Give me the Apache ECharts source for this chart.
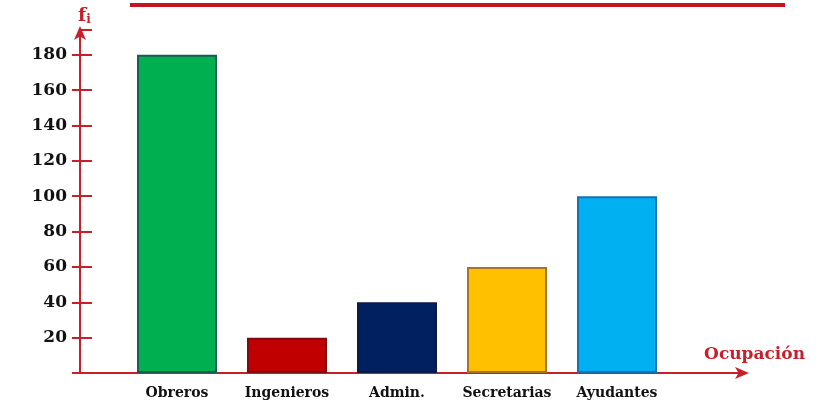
<!DOCTYPE html>
<html><head><meta charset="utf-8">
<script src="https://cdn.jsdelivr.net/npm/echarts@6/dist/echarts.min.js"></script>
<style>html,body{margin:0;padding:0;background:#fff}#c{width:818px;height:401px}</style>
</head><body><div id="c"></div>
<script>
const categories = ['Obreros', 'Ingenieros', 'Admin.', 'Secretarias', 'Ayudantes'];
const frequencies = [180, 20, 40, 60, 100];
const barColors = ['#00b050', '#c00000', '#002060', '#ffc000', '#00b0f0'];
const barBorders = ['#1d5a55', '#7a0d10', '#0c1a45', '#a8722a', '#1a6fb0'];
const yMax = 194;
const yInterval = 20;

const red = '#c8202a';
const labelFont = 'DejaVu Serif';
const chart = echarts.init(document.getElementById('c'));
chart.setOption({
  backgroundColor: '#fff',
  animation: false,
  graphic: [{ type: 'rect', shape: { x: 130, y: 3, width: 655, height: 4 }, style: { fill: '#c4141e' } }],
  grid: [
    { left: 80, right: 73, top: 30, bottom: 28 },
    { left: 122, right: 146, top: 30, bottom: 28 }
  ],
  xAxis: [
    { gridIndex: 0, type: 'value', min: 0, max: 1,
      axisLine: { show: true, lineStyle: { color: red, width: 2 }, symbol: ['none', 'arrow'], symbolSize: [9, 14], symbolOffset: [0, 4] },
      axisTick: { show: false }, axisLabel: { show: false }, splitLine: { show: false },
      name: 'Ocupación', nameLocation: 'end', nameGap: 60,
      nameTextStyle: { color: red, fontFamily: labelFont, fontWeight: 'bold', fontSize: 17, align: 'right', verticalAlign: 'bottom', padding: [0, 0, 10, 0] } },
    { gridIndex: 1, type: 'category', data: categories,
      axisLine: { show: false }, axisTick: { show: false },
      axisLabel: { interval: 0, color: '#111', fontFamily: labelFont, fontWeight: 'bold', fontSize: 14, margin: 13 } }
  ],
  yAxis: [
    { gridIndex: 0, type: 'value', position: 'left', min: 0, max: yMax, interval: yInterval,
      axisLine: { show: true, lineStyle: { color: red, width: 2 }, symbol: ['none', 'arrow'], symbolSize: [9, 14], symbolOffset: [0, 4] },
      axisTick: { show: true, length: 8, lineStyle: { color: red, width: 2 } },
      axisLabel: { color: '#111', fontFamily: labelFont, fontWeight: 'bold', fontSize: 17, margin: 13, showMaxLabel: false,
        formatter: v => (v === 0 || v % yInterval !== 0) ? '' : String(v) },
      splitLine: { show: false },
      name: 'f{s|i}', nameLocation: 'end', nameGap: 4,
      nameTextStyle: { color: red, fontFamily: labelFont, fontWeight: 'bold', fontSize: 19, align: 'left', padding: [0, 0, 0, -2],
        rich: { s: { color: red, fontFamily: labelFont, fontWeight: 'bold', fontSize: 12, verticalAlign: 'bottom', padding: [8, 0, 0, 0] } } } },
    { gridIndex: 0, type: 'value', position: 'left', offset: 0, min: 0, max: yMax, interval: yInterval,
      axisLine: { show: false, onZero: false },
      axisTick: { show: true, inside: true, length: 12, lineStyle: { color: red, width: 2 } },
      axisLabel: { show: false }, splitLine: { show: false } },
    { gridIndex: 1, type: 'value', min: 0, max: yMax, show: false }
  ],
  series: [{
    type: 'bar', xAxisIndex: 1, yAxisIndex: 2, barWidth: 80,
    data: frequencies.map((v, i) => ({ value: v, itemStyle: { color: barColors[i], borderColor: barBorders[i], borderWidth: 2 } }))
  }]
});
</script></body></html>
